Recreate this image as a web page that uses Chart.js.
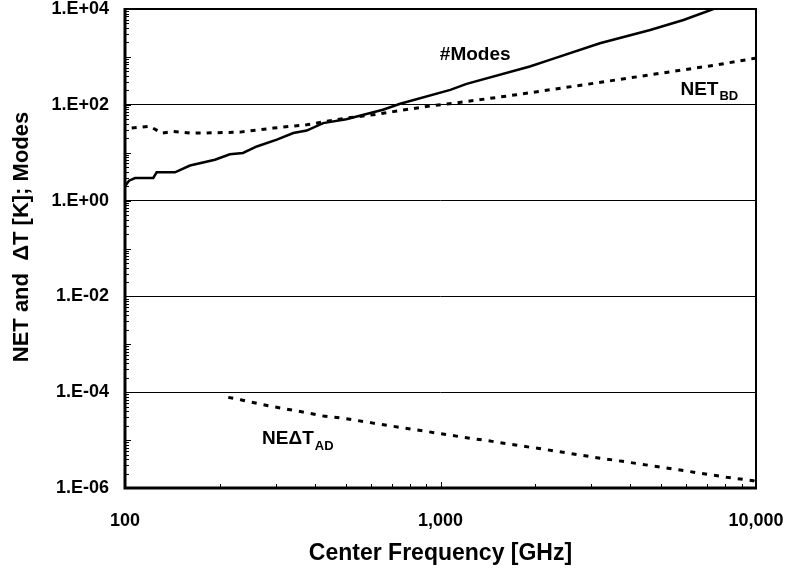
<!DOCTYPE html>
<html lang="en">
<head>
  <meta charset="UTF-8" />
  <title>NET and Modes vs Center Frequency</title>
  <script src="https://cdn.jsdelivr.net/npm/chart.js"></script>
  <style>
    html, body { margin: 0; padding: 0; background: #fff; }
    #wrap { width: 790px; height: 577px; }
  </style>
</head>
<body>
  <div id="wrap"><canvas id="chart"></canvas></div>

  <script>
    // #Modes (solid)
    const modesFreq = [100, 103, 107.6, 122.9, 126, 144, 160.7, 192.8, 215, 236.6, 261.6, 302.9, 341.6, 376.5, 424.7, 502.5, 657, 745, 1074, 1210, 1919, 2220, 3200, 4620, 5890, 7330];
    const modesVal  = [2.0, 2.6, 2.95, 2.97, 3.9, 3.9, 5.4, 7.15, 9.3, 9.9, 13.5, 18.7, 25.7, 29, 41.5, 50, 78.7, 105, 205, 274, 630, 866, 1930, 3650, 5900, 10000];

    // NET_BD (dashed)
    const netFreq = [105, 120, 130.7, 142.3, 160.7, 177, 231.6, 295, 376.5, 502.5, 612, 708, 901, 1210, 1740, 2840, 4620, 7500, 9930];
    const netVal  = [32.7, 35.4, 25.7, 27.9, 25.7, 25.7, 26.9, 32.7, 38.3, 52.8, 61.9, 72, 92, 117, 162, 261, 422, 681, 938];

    // NEdT_AD (dashed)
    const nedtFreq = [212.5, 234, 284.6, 350, 425, 503, 612, 745, 901, 1190, 1460, 1933, 2110, 3085, 3770, 5055, 6100, 8080, 9800, 10000];
    const nedtVal  = [7.8e-5, 6.9e-5, 5.2e-5, 4.07e-5, 3.2e-5, 2.8e-5, 2.26e-5, 1.84e-5, 1.52e-5, 1.14e-5, 9.4e-6, 7.05e-6, 6.5e-6, 4.36e-6, 3.6e-6, 2.7e-6, 2.23e-6, 1.67e-6, 1.42e-6, 1.35e-6];

    const labelledDecades = [4, 2, 0, -2, -4, -6];
    const xLabels = [100, 1000, 10000];

    // in-plot curve labels (data coordinates)
    const curveLabels = [
      { text: '#Modes', sub: '',   x: 995, y: 1100 },
      { text: 'NET',    sub: 'BD', x: 5760, y: 205 },
      { text: 'NE\u0394T', sub: 'AD', x: 272, y: 1.05e-5 }
    ];

    const FONT = "'Liberation Sans', Arial, sans-serif";

    const pts = (xs, ys) => xs.map((x, i) => ({ x: x, y: ys[i] }));
    const exp10 = v => Math.round(Math.log10(v));
    const isDecade = v => Math.abs(Math.log10(v) - exp10(v)) < 1e-9;

    function logTicks(lo, hi) {
      const out = [];
      for (let e = lo; e < hi; e++) {
        for (let m = 1; m <= 9; m++) out.push({ value: m * Math.pow(10, e) });
      }
      out.push({ value: Math.pow(10, hi) });
      return out;
    }

    const decor = {
      id: 'decor',
      afterDatasetsDraw(chart) {
        const { ctx, chartArea: a, scales: { x, y } } = chart;
        ctx.save();
        ctx.strokeStyle = '#000';
        ctx.lineWidth = 1;
        ctx.beginPath();
        y.ticks.forEach(t => {
          const py = Math.round(y.getPixelForValue(t.value)) + 0.5;
          const len = isDecade(t.value) ? 6 : 4;
          ctx.moveTo(a.left, py);
          ctx.lineTo(a.left + len, py);
        });
        x.ticks.forEach(t => {
          const px = Math.round(x.getPixelForValue(t.value)) + 0.5;
          const len = isDecade(t.value) ? 6 : 4;
          ctx.moveTo(px, a.bottom);
          ctx.lineTo(px, a.bottom - len);
        });
        ctx.stroke();

        // plot frame: heavier on the axis sides
        ctx.lineWidth = 2;
        ctx.strokeRect(a.left, a.top, a.right - a.left, a.bottom - a.top);
        ctx.lineWidth = 3;
        ctx.beginPath();
        ctx.moveTo(a.left, a.top - 1);
        ctx.lineTo(a.left, a.bottom);
        ctx.lineTo(a.right + 1, a.bottom);
        ctx.stroke();
        ctx.restore();
      },
      afterDraw(chart) {
        const { ctx, chartArea: a, scales: { x, y } } = chart;
        ctx.save();
        ctx.fillStyle = '#000';
        ctx.textBaseline = 'middle';
        ctx.textAlign = 'left';
        curveLabels.forEach(l => {
          const px = x.getPixelForValue(l.x);
          const py = y.getPixelForValue(l.y);
          ctx.font = 'bold 19px ' + FONT;
          ctx.fillText(l.text, px, py);
          if (l.sub) {
            const w = ctx.measureText(l.text).width;
            ctx.font = 'bold 13px ' + FONT;
            ctx.fillText(l.sub, px + w + 1, py + 7);
          }
        });

        // axis titles
        ctx.font = 'bold 23px ' + FONT;
        ctx.textAlign = 'center';
        ctx.fillText('Center Frequency [GHz]', (a.left + a.right) / 2, chart.height - 23);
        ctx.font = 'bold 22px ' + FONT;
        ctx.translate(22, 237);
        ctx.rotate(-Math.PI / 2);
        ctx.fillText('NET and  \u0394T [K]; Modes', 0, 0);
        ctx.restore();
      }
    };

    new Chart(document.getElementById('chart'), {
      type: 'scatter',
      data: {
        datasets: [
          {
            label: '#Modes',
            data: pts(modesFreq, modesVal),
            showLine: true,
            borderColor: '#000',
            borderWidth: 2.5,
            pointRadius: 0,
            tension: 0
          },
          {
            label: 'NET_BD',
            data: pts(netFreq, netVal),
            showLine: true,
            borderColor: '#000',
            borderWidth: 3,
            borderDash: [5, 6],
            pointRadius: 0,
            tension: 0
          },
          {
            label: 'NEdT_AD',
            data: pts(nedtFreq, nedtVal),
            showLine: true,
            borderColor: '#000',
            borderWidth: 3,
            borderDash: [5, 7],
            pointRadius: 0,
            tension: 0
          }
        ]
      },
      options: {
        responsive: true,
        maintainAspectRatio: false,
        animation: false,
        devicePixelRatio: 1,
        layout: { padding: { left: 0, right: 34, top: 9, bottom: 0 } },
        plugins: {
          legend: { display: false },
          tooltip: { enabled: false }
        },
        scales: {
          x: {
            type: 'logarithmic',
            min: 100,
            max: 10000,
            afterBuildTicks: s => { s.ticks = logTicks(2, 4); },
            afterFit: s => { s.height = 89; s.paddingLeft = 0; s.paddingRight = 0; },
            grid: { display: false, drawTicks: false },
            border: { display: false },
            ticks: {
              autoSkip: false,
              maxRotation: 0,
              minRotation: 0,
              padding: 22,
              color: '#000',
              font: { family: FONT, size: 18, weight: 'bold' },
              callback: v => xLabels.includes(v) ? v.toLocaleString('en-US') : ''
            }
          },
          y: {
            type: 'logarithmic',
            min: 1e-6,
            max: 1e4,
            afterBuildTicks: s => { s.ticks = logTicks(-6, 4); },
            afterFit: s => { s.width = 125; s.paddingTop = 0; s.paddingBottom = 0; },
            grid: {
              drawTicks: false,
              lineWidth: 1,
              color: c => {
                const v = c.tick && c.tick.value;
                if (!v || !isDecade(v)) return 'rgba(0,0,0,0)';
                const e = exp10(v);
                return (e % 2 === 0 && e > -6 && e < 4) ? '#000' : 'rgba(0,0,0,0)';
              }
            },
            border: { display: false },
            ticks: {
              autoSkip: false,
              padding: 16,
              color: '#000',
              font: { family: FONT, size: 18, weight: 'bold' },
              callback: v => {
                if (!isDecade(v)) return '';
                const e = exp10(v);
                if (!labelledDecades.includes(e)) return '';
                return '1.E' + (e < 0 ? '-' : '+') + String(Math.abs(e)).padStart(2, '0');
              }
            }
          }
        }
      },
      plugins: [decor]
    });
  </script>
</body>
</html>
